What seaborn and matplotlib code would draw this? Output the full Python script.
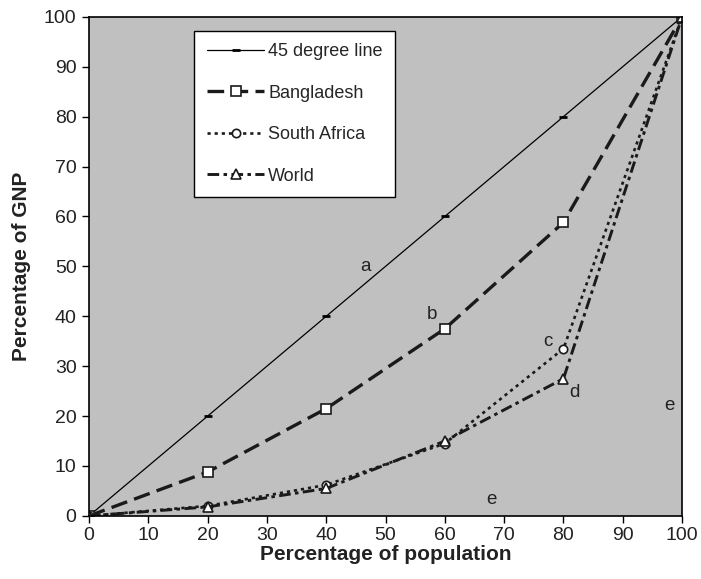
import numpy as np
import pandas as pd
import matplotlib
matplotlib.use("Agg")
import matplotlib.pyplot as plt
import seaborn as sns

# cumulative population share (x) and GNP share (y)
population = [0, 20, 40, 60, 80, 100]
line_45 = [0, 20, 40, 60, 80, 100]
bangladesh = [0, 8.8, 21.5, 37.5, 58.8, 100]
south_africa = [0, 2.0, 6.2, 14.5, 33.5, 100]
world = [0, 1.8, 5.5, 15.0, 27.5, 100]

labels = [("a", 46.7, 50), ("b", 57.8, 40.3), ("c", 77.4, 35),
          ("d", 81.8, 24.8), ("e", 97.8, 22.2), ("e", 67.8, 3.2)]

sns.set_style("white")
plt.rcParams['font.family'] = ['Liberation Sans', 'DejaVu Sans']

fig = plt.figure(figsize=(7.01, 5.79), dpi=100)
ax = fig.add_axes([0.127, 0.109, 0.846, 0.862])
ax.set_facecolor("#c0c0c0")

sns.lineplot(x=population, y=line_45, ax=ax, color="black", lw=0.9,
             marker="_", markersize=6, mew=2, mec="black", label="45 degree line")
sns.lineplot(x=population, y=bangladesh, ax=ax, color="#1a1a1a", lw=2.4,
             linestyle=(0, (5, 2.2)), marker="s", markersize=7,
             mfc="white", mec="#1a1a1a", mew=1.2, label="Bangladesh")
sns.lineplot(x=population, y=south_africa, ax=ax, color="#1a1a1a", lw=1.9,
             linestyle=(0, (1.2, 1.5)), marker="o", markersize=6,
             mfc="white", mec="#1a1a1a", mew=1.2, label="South Africa")
sns.lineplot(x=population, y=world, ax=ax, color="#1a1a1a", lw=2.1,
             linestyle=(0, (4, 1.5, 1.2, 1.5)), marker="^", markersize=7,
             mfc="white", mec="#1a1a1a", mew=1.2, label="World")

for t, x, y in labels:
    ax.text(x, y, t, fontsize=13.5, color="#222222", ha="center", va="center")

ax.set_xlim(0, 100)
ax.set_ylim(0, 100)
ax.set_xticks(range(0, 101, 10))
ax.set_yticks(range(0, 101, 10))
ax.tick_params(labelsize=14, length=5, width=1, direction="out",
               bottom=True, left=True, color="black", labelcolor="#222222")
ax.tick_params(axis="x", pad=3)
ax.tick_params(axis="y", pad=4)
ax.set_xlabel("Percentage of population", fontsize=15, fontweight="bold",
              labelpad=1, color="#222222")
ax.set_ylabel("Percentage of GNP", fontsize=15, fontweight="bold",
              labelpad=9, color="#222222")
for s in ax.spines.values():
    s.set_color("black")
    s.set_linewidth(1.2)

leg = ax.legend(loc="upper left", bbox_to_anchor=(0.177, 0.972), fontsize=13,
                frameon=True, fancybox=False, edgecolor="black",
                facecolor="white", framealpha=1, handlelength=3.2,
                labelspacing=1.35, borderpad=0.7, handletextpad=0.2,
                borderaxespad=0)
leg.get_frame().set_linewidth(1.0)

fig.savefig("out.png", dpi=100)
